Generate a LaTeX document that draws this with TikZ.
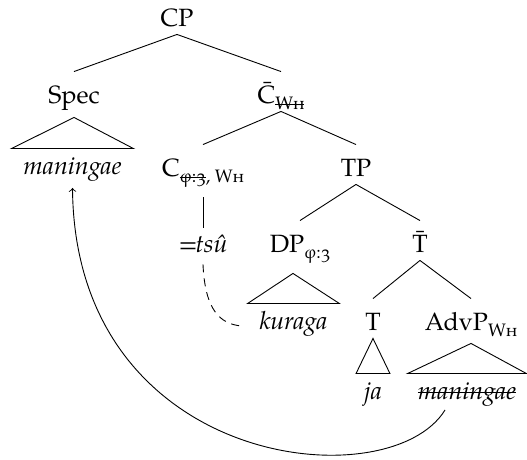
\documentclass[tikz,border=0pt]{standalone}
\usepackage{fontspec}
\setmainfont{TeX Gyre Pagella}
% lowered, smaller feature subscripts
\newcommand\lsub[1]{\raisebox{-2.6pt}{\fontsize{9}{10}\selectfont #1}}
% struck-through text
\newcommand\strike[1]{\leavevmode\setbox0\hbox{#1}\rlap{\rule[0.55ex]{\wd0}{0.45pt}}\box0}
\newcommand\whf{\textsc{Wh}}
\newcommand\phithree{φ:{\addfontfeatures{Numbers=OldStyle}3}}
\begin{document}
\begin{tikzpicture}[x=0.5pt,y=-0.5pt,
  font=\fontsize{12.5}{15}\selectfont, line width=0.45pt,
  lab/.style={anchor=base, inner sep=0pt, text height=16pt, text depth=3.5pt},
  leaf/.style={anchor=base, inner sep=0pt, text height=13pt, text depth=3pt,
    font=\fontsize{12.5}{15}\selectfont\itshape}]
\useasboundingbox (0,0) rectangle (527,460);

% labels
\node[lab] (cp)   at (177,27)  {CP};
\node[lab] (spec) at (74,104)  {Spec};
\node[lab] (cbar) at (281,104) {\={C}\lsub{\strike{\whf}}};
\node[lab] (c)    at (203,177) {C\lsub{\strike{\phithree}, \whf}};
\node[lab] (tp)   at (356,177) {TP};
\node[lab, font=\fontsize{12.5}{15}\selectfont\itshape] (tsu) at (203,253) {=\kern-1pt tsû};
\node[lab] (dp)   at (300,253) {DP\lsub{\phithree}};
\node[lab] (tbar) at (420,253) {\={T}};
\node[lab] (t)    at (373,331) {T};
\node[lab] (advp) at (471,331) {AdvP\lsub{\whf}};

% leaves under roofs
\node[leaf, minimum width=60.5pt] (man1) at (72.5,175) {maningae};
\node[leaf, minimum width=45.5pt] (kur)  at (293.5,330) {kuraga};
\node[leaf, minimum width=16.5pt] (ja)   at (373,400)  {ja};
\node[leaf, minimum width=59pt]   (man2) at (467,400)  {\strike{maningae}};

% branches
\draw (cp.south) -- (spec.north);
\draw (cp.south) -- (cbar.north);
\draw (cbar.south) -- (c.north);
\draw (cbar.south) -- (tp.north);
\draw (tp.south) -- (dp.north);
\draw (tp.south) -- (tbar.north);
\draw (tbar.south) -- (t.north);
\draw (tbar.south) -- (advp.north);

% roofs
\draw ([yshift=-3pt]spec.south) -- (man1.north west) -- (man1.north east) -- cycle;
\draw ([xshift=-3.5pt,yshift=-6.5pt]dp.south) -- (kur.north west) -- (kur.north east) -- cycle;
\draw (t.south) -- (ja.north west) -- (ja.north east) -- cycle;
\draw ([yshift=-2.5pt]advp.south) -- (man2.north west) -- (man2.north east) -- cycle;

% clitic attachment
\draw ([yshift=-6.5pt]c.south) -- ([yshift=-3.5pt]tsu.north);
\draw[dash pattern=on 4pt off 3pt]
  ([yshift=-2pt]tsu.south) .. controls +(2,45) and +(-22,-2) ..
  ([xshift=-3pt,yshift=2pt]kur.base west);

% movement
\draw[->] ([xshift=-11pt,yshift=-5pt]man2.base)
  .. controls (390,500) and (75,470) .. ([yshift=-6.5pt]man1.base);
\end{tikzpicture}
\end{document}
